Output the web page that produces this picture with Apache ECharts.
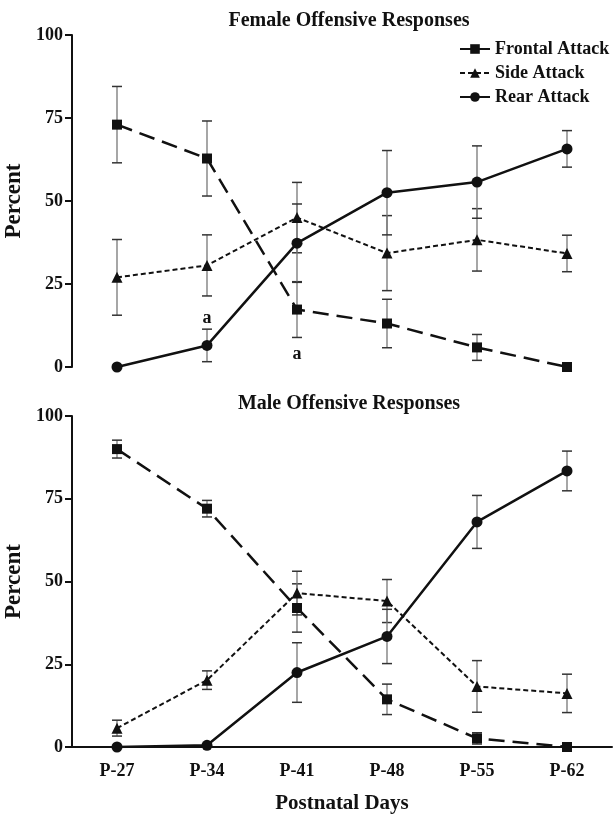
<!DOCTYPE html>
<html>
<head>
<meta charset="utf-8">
<script src="https://cdn.jsdelivr.net/npm/echarts@6/dist/echarts.min.js"></script>
<style>
  html, body { margin: 0; padding: 0; background: #fff; }
  #chart { width: 614px; height: 816px; }
</style>
</head>
<body>
<div id="chart"></div>
<script>
// postnatal days
var days = ['P-27', 'P-34', 'P-41', 'P-48', 'P-55', 'P-62'];

// female offensive responses (percent, +/- error)
var femaleFrontal = [73, 62.8, 17.3, 13.1, 5.9, 0];
var femaleFrontalErr = [11.5, 11.3, 8.4, 7.3, 3.9, 0];
var femaleSide = [27, 30.6, 45, 34.3, 38.3, 34.2];
var femaleSideErr = [11.4, 9.2, 10.6, 11.3, 9.4, 5.5];
var femaleRear = [0, 6.5, 37.3, 52.5, 55.7, 65.7];
var femaleRearErr = [0, 4.9, 11.8, 12.7, 10.9, 5.5];

// male offensive responses
var maleFrontal = [90, 72, 42, 14.4, 2.6, 0];
var maleFrontalErr = [2.7, 2.5, 7.3, 4.6, 1.7, 0];
var maleSide = [5.7, 20.2, 46.5, 44.1, 18.3, 16.2];
var maleSideErr = [2.4, 2.8, 6.6, 6.5, 7.8, 5.8];
var maleRear = [0, 0.5, 22.5, 33.4, 68, 83.4];
var maleRearErr = [0, 0, 9, 8.2, 8, 6];

// the little "a" notes in the female panel
var femaleNotes = [['P-34', 14.8, 'a'], ['P-41', 3.9, 'a']];

var FONT = "'Liberation Serif', 'Times New Roman', serif";

function errorBars(means, errs, idx) {
    var data = [];
    for (var i = 0; i < means.length; i++) {
        if (errs[i] > 0) data.push([i, means[i] - errs[i], means[i] + errs[i]]);
    }
    return {
        type: 'custom',
        xAxisIndex: idx,
        yAxisIndex: idx,
        silent: true,
        z: 1,
        data: data,
        renderItem: function (params, api) {
            var x = api.value(0);
            var lo = api.coord([x, api.value(1)]);
            var hi = api.coord([x, api.value(2)]);
            var w = 5;
            return {
                type: 'group',
                children: [
                    { type: 'line', shape: { x1: hi[0], y1: hi[1], x2: lo[0], y2: lo[1] }, style: { stroke: '#777', lineWidth: 1.3 } },
                    { type: 'line', shape: { x1: hi[0] - w, y1: hi[1], x2: hi[0] + w, y2: hi[1] }, style: { stroke: '#333', lineWidth: 1.5 } },
                    { type: 'line', shape: { x1: lo[0] - w, y1: lo[1], x2: lo[0] + w, y2: lo[1] }, style: { stroke: '#333', lineWidth: 1.5 } }
                ]
            };
        }
    };
}

function lineSeries(name, values, idx, kind) {
    var s = {
        name: name,
        type: 'line',
        xAxisIndex: idx,
        yAxisIndex: idx,
        data: values,
        z: 3,
        symbolSize: 11,
        itemStyle: { color: '#111' },
        lineStyle: { color: '#111', width: 2.5 }
    };
    if (kind == 'frontal') {
        s.symbol = 'rect';
        s.symbolSize = 10;
        s.lineStyle.type = [16, 8];
    } else if (kind == 'side') {
        s.symbol = 'triangle';
        s.symbolSize = 11;
        s.lineStyle.width = 2;
        s.lineStyle.type = [5, 3];
    } else {
        s.symbol = 'circle';
    }
    return s;
}

function yAxis(idx) {
    return {
        gridIndex: idx,
        type: 'value',
        min: 0,
        max: 100,
        interval: 25,
        name: 'Percent',
        nameLocation: 'middle',
        nameGap: 10,
        nameRotate: 90,
        nameTextStyle: { fontFamily: FONT, fontWeight: 'bold', fontSize: 23, color: '#111' },
        axisLine: { show: true, lineStyle: { color: '#111', width: 2 } },
        axisTick: { show: true, length: 7, lineStyle: { color: '#111', width: 2 } },
        axisLabel: { fontFamily: FONT, fontWeight: 'bold', fontSize: 18, color: '#111', margin: 9 },
        splitLine: { show: false }
    };
}

var notesData = femaleNotes.map(function (n) {
    return { coord: [n[0], n[1]], value: n[2] };
});

var series = [
    errorBars(femaleFrontal, femaleFrontalErr, 0),
    errorBars(femaleSide, femaleSideErr, 0),
    errorBars(femaleRear, femaleRearErr, 0),
    errorBars(maleFrontal, maleFrontalErr, 1),
    errorBars(maleSide, maleSideErr, 1),
    errorBars(maleRear, maleRearErr, 1),
    lineSeries('Frontal Attack', femaleFrontal, 0, 'frontal'),
    lineSeries('Side Attack', femaleSide, 0, 'side'),
    lineSeries('Rear Attack', femaleRear, 0, 'rear'),
    lineSeries('Frontal Attack', maleFrontal, 1, 'frontal'),
    lineSeries('Side Attack', maleSide, 1, 'side'),
    lineSeries('Rear Attack', maleRear, 1, 'rear')
];
series[8].markPoint = {
    symbol: 'circle',
    symbolSize: 0,
    silent: true,
    label: { show: true, position: 'inside', formatter: '{c}', fontFamily: FONT, fontWeight: 'bold', fontSize: 18, color: '#111' },
    data: notesData
};

var chart = echarts.init(document.getElementById('chart'));
chart.setOption({
    animation: false,
    backgroundColor: '#fff',
    title: [
        { text: 'Female Offensive Responses', left: 344, top: 6, textAlign: 'center',
          textStyle: { fontFamily: FONT, fontWeight: 'bold', fontSize: 20, color: '#111' } },
        { text: 'Male Offensive Responses', left: 344, top: 389, textAlign: 'center',
          textStyle: { fontFamily: FONT, fontWeight: 'bold', fontSize: 20, color: '#111' } }
    ],
    legend: {
        orient: 'vertical',
        left: 454,
        top: 35,
        itemGap: 6,
        itemWidth: 30,
        itemHeight: 12,
        textStyle: { fontFamily: FONT, fontWeight: 'bold', fontSize: 18, color: '#111' },
        data: [
            { name: 'Frontal Attack', lineStyle: { type: 'solid' } },
            { name: 'Side Attack' },
            { name: 'Rear Attack' }
        ]
    },
    grid: [
        { left: 72, right: 2, top: 35, height: 332, outerBoundsMode: 'none' },
        { left: 72, right: 2, top: 416, height: 331, outerBoundsMode: 'none' }
    ],
    xAxis: [
        { gridIndex: 0, type: 'category', data: days, show: false },
        {
            gridIndex: 1,
            type: 'category',
            data: days,
            name: 'Postnatal Days',
            nameLocation: 'middle',
            nameGap: 46,
            nameTextStyle: { fontFamily: FONT, fontWeight: 'bold', fontSize: 21, color: '#111' },
            axisLine: { lineStyle: { color: '#111', width: 2 } },
            axisTick: { show: false },
            axisLabel: { fontFamily: FONT, fontWeight: 'bold', fontSize: 18, color: '#111', margin: 15 }
        }
    ],
    yAxis: [yAxis(0), yAxis(1)],
    series: series
});
</script>
</body>
</html>
